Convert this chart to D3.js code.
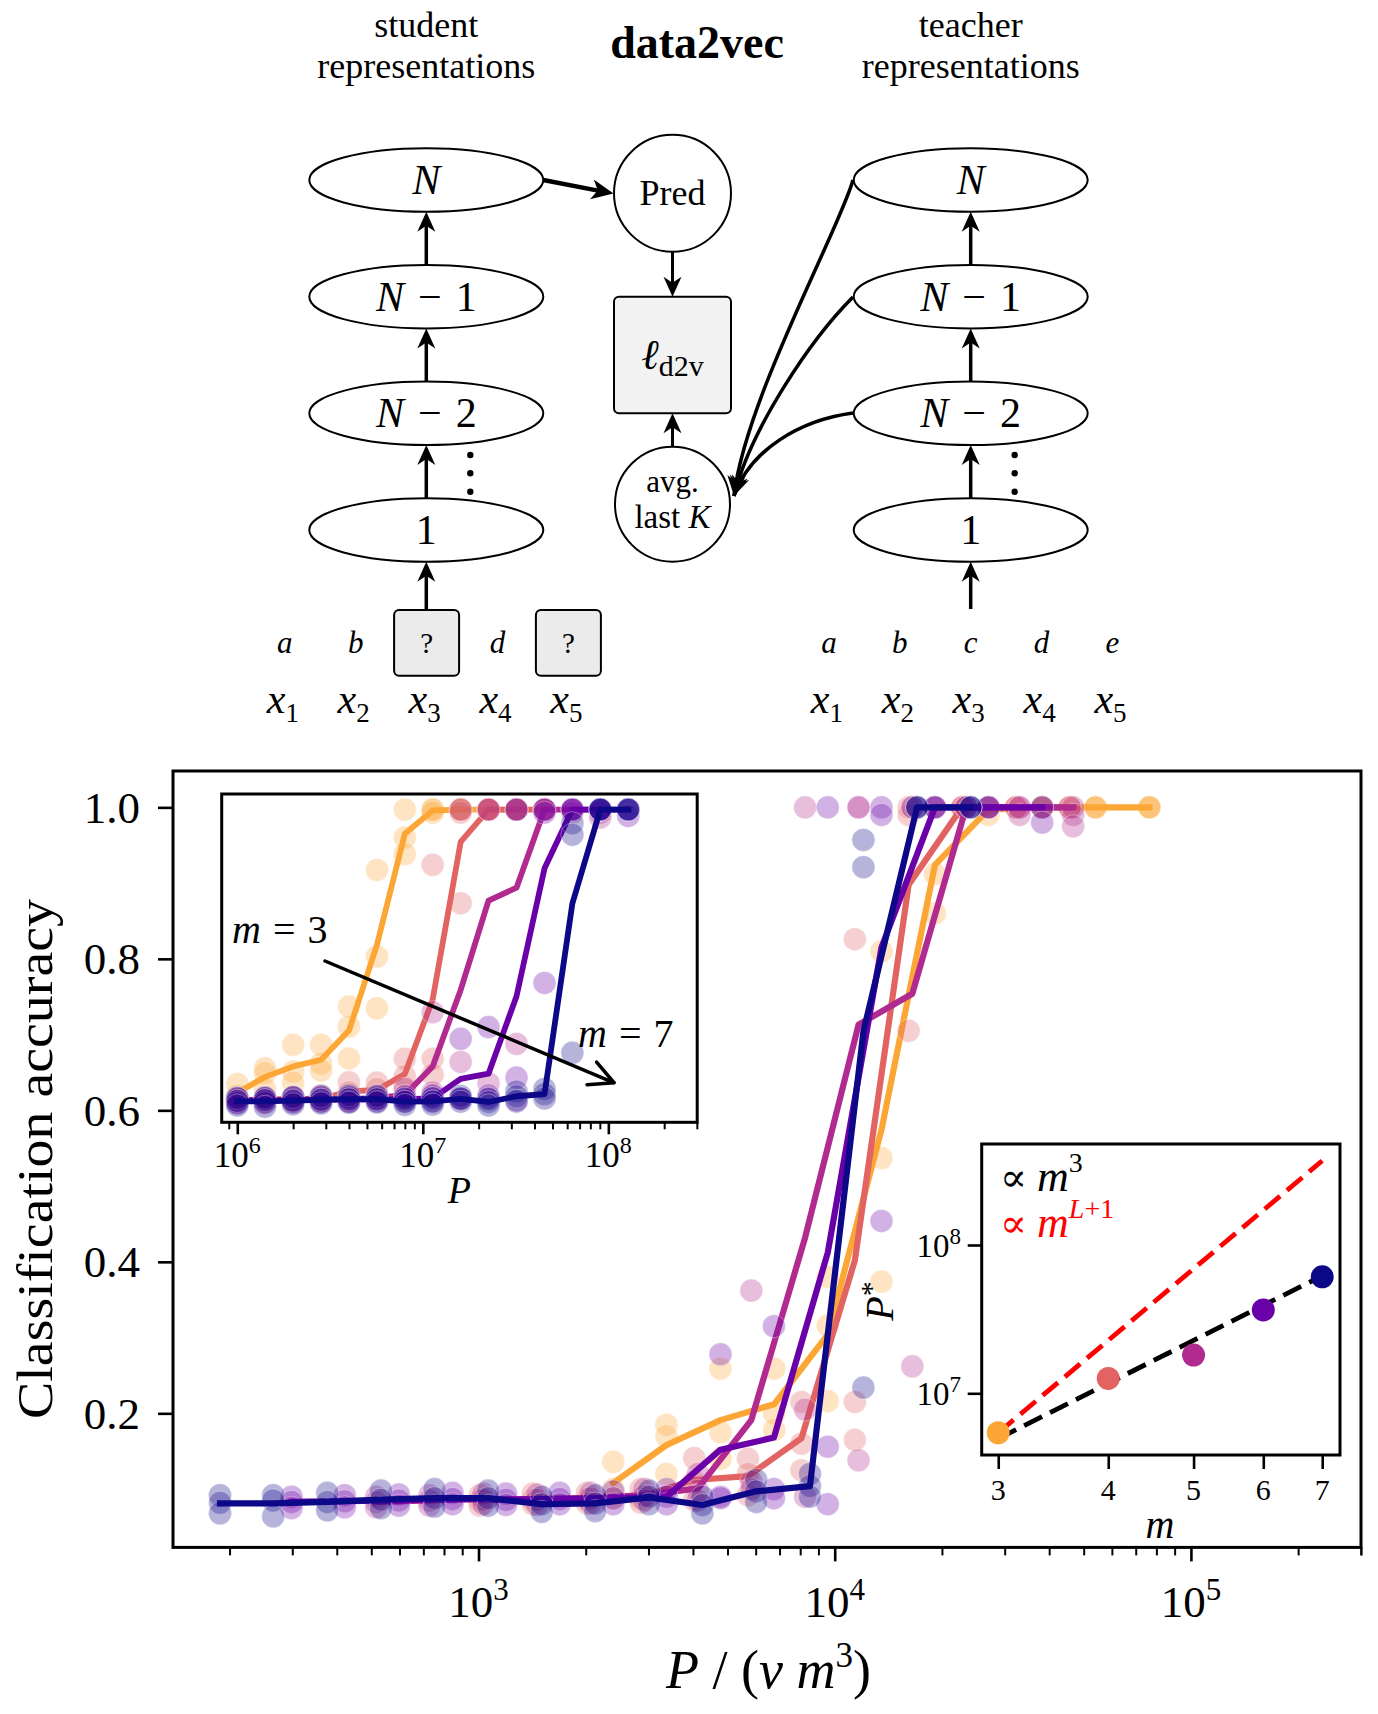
<!DOCTYPE html>
<html>
<head>
<meta charset="utf-8">
<script src="https://cdn.jsdelivr.net/npm/d3@7"></script>
<style>
  body { margin: 0; background: #fff; }
  svg { display: block; }
</style>
</head>
<body>
<svg id="fig" width="1378" height="1714"></svg>
<script>
// ===================== DATA =====================
const mValues = [3, 4, 5, 6, 7];
const seriesColors = ["#fca636", "#e16462", "#b12a90", "#6a00a8", "#0d0887"];
// training-set sizes P (shared grid, sqrt(2) steps)
const Pgrid = [1.0e6, 1.41e6, 2.0e6, 2.83e6, 4.0e6, 5.66e6, 8.0e6, 1.13e7, 1.6e7, 2.26e7, 3.2e7, 4.53e7, 6.4e7, 9.05e7, 1.28e8];
const vFactor = 15.5; // v in P/(v m^3)

// mean accuracy (lines)
const meanM3 = [0.108, 0.158, 0.191, 0.212, 0.304, 0.574, 0.924, 0.997, 1.0, 1.0, 1.0];
const meanM4 = [0.085, 0.087, 0.088, 0.090, 0.112, 0.117, 0.167, 0.402, 0.898, 1.0, 1.0, 1.0];
const meanM5 = [0.083, 0.085, 0.087, 0.086, 0.088, 0.092, 0.101, 0.191, 0.432, 0.713, 0.754, 1.0, 1.0, 1.0];
const meanM6 = [0.083, 0.084, 0.085, 0.087, 0.086, 0.087, 0.088, 0.090, 0.152, 0.168, 0.412, 0.815, 1.0, 1.0, 1.0];
const meanM7 = [0.081, 0.081, 0.083, 0.086, 0.088, 0.088, 0.080, 0.081, 0.089, 0.079, 0.097, 0.104, 0.704, 1.0, 1.0];

// individual runs (faint dots)
const runsM3 = [[0.136,0.100,0.088],[0.185,0.170,0.120],[0.259,0.175,0.140],[0.259,0.200,0.178],[0.380,0.316,0.216],
  [0.810,0.537,0.374],[1.000,0.912,0.860],[1.000,1.000,0.990],[1.000,1.000,1.000],[1.000,1.000,1.000],[1.000,1.000,1.000]];
const runsM4 = [[0.092,0.085,0.078],[0.094,0.086,0.080],[0.095,0.087,0.081],[0.100,0.088,0.082],[0.141,0.110,0.085],
  [0.140,0.120,0.092],[0.215,0.160,0.125],[0.826,0.215,0.165],[1.000,0.990,0.705],[1.000,1.000,1.000],[1.000,1.000,1.000],[1.000,1.000,1.000]];
const runsM5 = [[0.090,0.083,0.076],[0.092,0.085,0.078],[0.094,0.086,0.080],[0.093,0.086,0.079],[0.095,0.088,0.081],
  [0.100,0.091,0.085],[0.120,0.098,0.085],[0.362,0.110,0.100],[1.000,0.205,0.090],[1.000,1.000,0.138],[1.000,1.000,0.262],
  [1.000,1.000,1.000],[1.000,1.000,0.990],[1.000,0.990,0.975]];
const runsM6 = [[0.090,0.083,0.075],[0.092,0.084,0.076],[0.093,0.085,0.078],[0.095,0.087,0.080],[0.094,0.086,0.079],
  [0.095,0.087,0.080],[0.097,0.088,0.080],[0.100,0.090,0.080],[0.278,0.090,0.088],[0.315,0.100,0.088],[1.000,0.156,0.080],
  [1.000,0.990,0.454],[1.000,1.000,1.000],[1.000,1.000,1.000],[1.000,1.000,0.980]];
const runsM7 = [[0.092,0.082,0.068],[0.092,0.085,0.064],[0.095,0.083,0.072],[0.098,0.086,0.075],[0.100,0.088,0.077],
  [0.098,0.088,0.078],[0.090,0.080,0.070],[0.092,0.081,0.071],[0.098,0.090,0.080],[0.090,0.079,0.068],[0.112,0.097,0.083],
  [0.120,0.104,0.090],[0.957,0.921,0.234],[1.000,1.000,1.000],[1.000,1.000,1.000]];

// critical P* per m (inset 2)
const Pstar = [5.42e6, 1.26e7, 1.81e7, 3.65e7, 6.1e7];
const fitM3Ends = [4.95e6, 6.2e7];     // "∝ m^3" at m=3 and m=7
const fitML1Ends = [5.42e6, 3.7e8];    // "∝ m^{L+1}" at m=3 and m=7

const mainYTicks = [0.2, 0.4, 0.6, 0.8, 1.0];
const mainXMajor = [1e3, 1e4, 1e5];
const inset1XMajor = [1e6, 1e7, 1e8];
const inset2YMajor = [1e7, 1e8];

const meansBySeries = [meanM3, meanM4, meanM5, meanM6, meanM7];
const runsBySeries = [runsM3, runsM4, runsM5, runsM6, runsM7];

// ===================== SETUP =====================
const SERIF = "'Liberation Serif','Times New Roman','DejaVu Serif',serif";
const svg = d3.select("#fig");
svg.append("rect").attr("width", 1378).attr("height", 1714).attr("fill", "#fff");

function richText(g, x, y, parts, attrs) {
  const t = g.append("text").attr("x", x).attr("y", y).attr("font-family", SERIF).attr("fill", "#000");
  Object.entries(attrs || {}).forEach(([k, v]) => t.attr(k, v));
  parts.forEach(p => {
    const ts = t.append("tspan").text(p.t);
    if (p.i) ts.attr("font-style", "italic");
    if (p.s) ts.attr("font-size", p.s);
    if (p.dy !== undefined) ts.attr("dy", p.dy);
    if (p.dx !== undefined) ts.attr("dx", p.dx);
    if (p.fill) ts.attr("fill", p.fill);
    if (p.w) ts.attr("font-weight", p.w);
  });
  return t;
}

function arrowHead(g, x, y, angle, L = 20, W = 9, notch = 6) {
  g.append("path")
    .attr("d", `M0,0 L${-L},${-W} L${-L + notch},0 L${-L},${W} Z`)
    .attr("transform", `translate(${x},${y}) rotate(${angle})`)
    .attr("fill", "#000");
}

// ===================== DIAGRAM =====================
const diag = svg.append("g");
const colX = [426.3, 970.7];
const layerY = [180, 296.7, 413.3, 530];
const layerNames = [[{t: "N", i: 1}], [{t: "N", i: 1}, {t: "−", dx: 14}, {t: "1", dx: 14}], [{t: "N", i: 1}, {t: "−", dx: 14}, {t: "2", dx: 14}], [{t: "1"}]];
const RX = 117, RY = 31.7;

richText(diag, colX[0], 37, [{t: "student"}], {"font-size": 36, "text-anchor": "middle"});
richText(diag, colX[0], 78, [{t: "representations"}], {"font-size": 36, "text-anchor": "middle"});
richText(diag, colX[1], 37, [{t: "teacher"}], {"font-size": 36, "text-anchor": "middle"});
richText(diag, colX[1], 78, [{t: "representations"}], {"font-size": 36, "text-anchor": "middle"});
richText(diag, 697, 58, [{t: "data2vec"}], {"font-size": 46, "text-anchor": "middle", "font-weight": "bold"});

colX.forEach(cx => {
  layerY.forEach((cy, li) => {
    diag.append("ellipse").attr("cx", cx).attr("cy", cy).attr("rx", RX).attr("ry", RY)
      .attr("fill", "#fff").attr("stroke", "#000").attr("stroke-width", 2);
    richText(diag, cx, cy + 14, layerNames[li], {"font-size": 42, "text-anchor": "middle"});
  });
  for (let li = 1; li < layerY.length; li++) {
    const y0 = layerY[li] - RY, y1 = layerY[li - 1] + RY;
    diag.append("line").attr("x1", cx).attr("x2", cx).attr("y1", y0).attr("y2", y1 + 12)
      .attr("stroke", "#000").attr("stroke-width", 3.5);
    arrowHead(diag, cx, y1, -90);
  }
  diag.append("line").attr("x1", cx).attr("x2", cx).attr("y1", 609).attr("y2", layerY[3] + RY + 12)
    .attr("stroke", "#000").attr("stroke-width", 3.5);
  arrowHead(diag, cx, layerY[3] + RY, -90);
  [455, 473.3, 491.7].forEach(dy => diag.append("circle").attr("cx", cx + 44).attr("cy", dy).attr("r", 3.2).attr("fill", "#000"));
});

// Pred circle
const predC = {x: 672.5, y: 193.3, r: 58.5};
diag.append("circle").attr("cx", predC.x).attr("cy", predC.y).attr("r", predC.r).attr("fill", "#fff").attr("stroke", "#000").attr("stroke-width", 2);
richText(diag, predC.x, predC.y + 12, [{t: "Pred"}], {"font-size": 36, "text-anchor": "middle"});
// loss box
diag.append("rect").attr("x", 614).attr("y", 296.7).attr("width", 117).attr("height", 116.6).attr("rx", 5)
  .attr("fill", "#f2f2f2").attr("stroke", "#000").attr("stroke-width", 2);
richText(diag, 672.5, 369, [{t: "ℓ", i: 1, s: 42}, {t: "d2v", s: 30, dy: 7}], {"text-anchor": "middle"});
// avg circle
const avgC = {x: 672.5, y: 504.2, r: 57.5};
diag.append("circle").attr("cx", avgC.x).attr("cy", avgC.y).attr("r", avgC.r).attr("fill", "#fff").attr("stroke", "#000").attr("stroke-width", 2);
richText(diag, avgC.x, 491.7, [{t: "avg."}], {"font-size": 31, "text-anchor": "middle"});
richText(diag, avgC.x, 528.3, [{t: "last "}, {t: "K", i: 1}], {"font-size": 33, "text-anchor": "middle"});

// N -> Pred
diag.append("line").attr("x1", 543.3).attr("y1", 180).attr("x2", 598).attr("y2", 190.6).attr("stroke", "#000").attr("stroke-width", 4.5);
arrowHead(diag, 613.5, 193.5, 10.9, 22, 10, 6);
// Pred -> box
diag.append("line").attr("x1", 672.5).attr("x2", 672.5).attr("y1", predC.y + predC.r).attr("y2", 284).attr("stroke", "#000").attr("stroke-width", 3);
arrowHead(diag, 672.5, 296.7, 90);
// avg -> box
diag.append("line").attr("x1", 672.5).attr("x2", 672.5).attr("y1", avgC.y - avgC.r).attr("y2", 426).attr("stroke", "#000").attr("stroke-width", 3);
arrowHead(diag, 672.5, 413.3, -90);

// curved teacher arrows
const curves = [
  [[853, 180], [840, 228], [745, 400], [734, 496]],
  [[853, 297], [810, 340], [750, 430], [734, 496]],
  [[853, 413], [800, 420], [750, 450], [734, 496]]
];
curves.forEach(c => {
  diag.append("path").attr("d", `M${c[0]} C${c[1]} ${c[2]} ${c[3]}`).attr("fill", "none").attr("stroke", "#000").attr("stroke-width", 3.5);
  const ang = Math.atan2(c[3][1] - c[2][1], c[3][0] - c[2][0]) * 180 / Math.PI;
  arrowHead(diag, c[3][0], c[3][1], ang);
});

// token rows
const tokX0 = [284.8, 828.9], tokDX = 70.9;
const studentTokens = ["a", "b", "?", "d", "?"];
const teacherTokens = ["a", "b", "c", "d", "e"];
function xLabel(x, i) {
  richText(diag, x - 2, 713.3, [{t: "x", i: 1}, {t: String(i + 1), s: 27, dy: 9}], {"font-size": 42, "text-anchor": "middle"});
}
studentTokens.forEach((tk, i) => {
  const x = tokX0[0] + tokDX * i;
  if (tk === "?") {
    diag.append("rect").attr("x", x - 32.5).attr("y", 610).attr("width", 65).attr("height", 65.7).attr("rx", 5)
      .attr("fill", "#ebebeb").attr("stroke", "#000").attr("stroke-width", 2);
    richText(diag, x, 653, [{t: "?"}], {"font-size": 29, "text-anchor": "middle"});
  } else {
    richText(diag, x, 653.3, [{t: tk, i: 1}], {"font-size": 31, "text-anchor": "middle"});
  }
  xLabel(x, i);
});
teacherTokens.forEach((tk, i) => {
  const x = tokX0[1] + tokDX * i;
  richText(diag, x, 653.3, [{t: tk, i: 1}], {"font-size": 31, "text-anchor": "middle"});
  xLabel(x, i);
});

// ===================== MAIN CHART =====================
const main = svg.append("g");
const MF = {l: 173, r: 1361, t: 771, b: 1547.4};
const xMain = d3.scaleLog().domain([Math.pow(10, 2.1423), Math.pow(10, 5.4775)]).range([MF.l, MF.r]);
const yMain = d3.scaleLinear().domain([0.023, 1.048]).range([MF.b, MF.t]);

function plotPanel(g, xOf, yScale, r, lw) {
  mValues.forEach((m, i) => {
    const pts = [];
    runsBySeries[i].forEach((arr, k) => arr.forEach(v => pts.push({k, v})));
    g.append("g").selectAll("circle").data(pts).join("circle")
      .attr("cx", d => xOf(Pgrid[d.k], m)).attr("cy", d => yScale(d.v)).attr("r", r)
      .attr("fill", seriesColors[i]).attr("fill-opacity", 0.3)
      .attr("stroke", "#fff").attr("stroke-opacity", 0.35).attr("stroke-width", 1);
    const line = d3.line().x((v, k) => xOf(Pgrid[k], m)).y(v => yScale(v));
    g.append("path").attr("d", line(meansBySeries[i])).attr("fill", "none")
      .attr("stroke", seriesColors[i]).attr("stroke-width", lw)
      .attr("stroke-linejoin", "round").attr("stroke-linecap", "square");
  });
}
plotPanel(main, (P, m) => xMain(P / (vFactor * m * m * m)), yMain, 11.5, 6.2);

const isMajor = v => Math.abs(Math.log10(v) - Math.round(Math.log10(v))) < 1e-9;
const mainMinor = xMain.ticks().filter(v => !isMajor(v)).concat([3e5]);
function styleAxis(sel, w) {
  sel.select(".domain").remove();
  sel.selectAll(".tick line").attr("stroke", "#000").attr("stroke-width", w);
}
main.append("g").attr("transform", `translate(0,${MF.b})`)
  .call(d3.axisBottom(xMain).tickValues(mainMinor).tickSize(8).tickFormat(""))
  .call(s => styleAxis(s, 2));
main.append("g").attr("transform", `translate(0,${MF.b})`)
  .call(d3.axisBottom(xMain).tickValues(mainXMajor).tickSize(14).tickFormat(""))
  .call(s => styleAxis(s, 2.6));
mainXMajor.forEach(v => {
  richText(main, xMain(v), 1616.7, [{t: "10"}, {t: String(Math.round(Math.log10(v))), s: 31, dy: -17}],
    {"font-size": 45, "text-anchor": "middle"});
});
const yAx = main.append("g").attr("transform", `translate(${MF.l},0)`)
  .call(d3.axisLeft(yMain).tickValues(mainYTicks).tickSize(15).tickPadding(18).tickFormat(d3.format(".1f")))
  .call(s => styleAxis(s, 2.6));
yAx.selectAll(".tick text").attr("font-family", SERIF).attr("font-size", 45).attr("fill", "#000").attr("dy", "0.33em");

main.append("rect").attr("x", MF.l).attr("y", MF.t).attr("width", MF.r - MF.l).attr("height", MF.b - MF.t)
  .attr("fill", "none").attr("stroke", "#000").attr("stroke-width", 3);

richText(main, 0, 0, [{t: "Classification accuracy"}],
  {"font-size": 50, "text-anchor": "middle", transform: "translate(52,1159) rotate(-90)", textLength: 520, lengthAdjust: "spacingAndGlyphs"});
richText(main, 768.5, 1688, [{t: "P", i: 1}, {t: " / ("}, {t: "v", i: 1}, {t: " "}, {t: "m", i: 1}, {t: "3", s: 35, dy: -21}, {t: ")", dy: 21}],
  {"font-size": 54, "text-anchor": "middle"});

// ===================== INSET 1 =====================
const in1 = svg.append("g");
const I1 = {l: 221.7, r: 697.2, t: 794, b: 1122.3};
const xIn1 = d3.scaleLog().domain([Math.pow(10, 5.916), Math.pow(10, 8.479)]).range([I1.l, I1.r]);
const yIn1 = d3.scaleLinear().domain([0.015, 1.049]).range([I1.b, I1.t]);
in1.append("rect").attr("x", I1.l).attr("y", I1.t).attr("width", I1.r - I1.l).attr("height", I1.b - I1.t).attr("fill", "#fff");
in1.append("clipPath").attr("id", "clip1").append("rect").attr("x", I1.l).attr("y", I1.t).attr("width", I1.r - I1.l).attr("height", I1.b - I1.t);
const in1Data = in1.append("g").attr("clip-path", "url(#clip1)");
plotPanel(in1Data, (P, m) => xIn1(P), yIn1, 11.5, 5.8);

in1.append("line").attr("x1", 325).attr("y1", 961).attr("x2", 613).attr("y2", 1082.3).attr("stroke", "#000").attr("stroke-width", 3.5).attr("stroke-linecap", "round");
(function () {
  const tip = [614, 1082.7], ang = Math.atan2(1082.7 - 961, 614 - 325), L = 27, half = 27 * Math.PI / 180;
  [ang + Math.PI - half, ang + Math.PI + half].forEach(a => {
    in1.append("line").attr("x1", tip[0]).attr("y1", tip[1]).attr("x2", tip[0] + L * Math.cos(a)).attr("y2", tip[1] + L * Math.sin(a))
      .attr("stroke", "#000").attr("stroke-width", 3.5).attr("stroke-linecap", "round");
  });
})();
richText(in1, 232, 943.3, [{t: "m", i: 1}, {t: "=", dx: 12}, {t: "3", dx: 12}], {"font-size": 40});
richText(in1, 578, 1047.3, [{t: "m", i: 1}, {t: "=", dx: 12}, {t: "7", dx: 12}], {"font-size": 40});

const in1Minor = xIn1.ticks().filter(v => !isMajor(v));
in1.append("g").attr("transform", `translate(0,${I1.b})`)
  .call(d3.axisBottom(xIn1).tickValues(in1Minor).tickSize(7).tickFormat(""))
  .call(s => styleAxis(s, 2));
in1.append("g").attr("transform", `translate(0,${I1.b})`)
  .call(d3.axisBottom(xIn1).tickValues(inset1XMajor).tickSize(12).tickFormat(""))
  .call(s => styleAxis(s, 2.6));
inset1XMajor.forEach(v => {
  richText(in1, xIn1(v), 1167.3, [{t: "10"}, {t: String(Math.round(Math.log10(v))), s: 24, dy: -14}],
    {"font-size": 35, "text-anchor": "middle"});
});
richText(in1, (I1.l + I1.r) / 2, 1203, [{t: "P", i: 1}], {"font-size": 38, "text-anchor": "middle"});
in1.append("rect").attr("x", I1.l).attr("y", I1.t).attr("width", I1.r - I1.l).attr("height", I1.b - I1.t)
  .attr("fill", "none").attr("stroke", "#000").attr("stroke-width", 3);

// ===================== INSET 2 =====================
const in2 = svg.append("g");
const I2 = {l: 981.7, r: 1340, t: 1144, b: 1455};
const xIn2 = d3.scaleLog().domain([2.873, 7.333]).range([I2.l, I2.r]);
const yIn2 = d3.scaleLog().domain([Math.pow(10, 6.584), Math.pow(10, 8.681)]).range([I2.b, I2.t]);
in2.append("rect").attr("x", I2.l).attr("y", I2.t).attr("width", I2.r - I2.l).attr("height", I2.b - I2.t).attr("fill", "#fff");
const mEnds = [mValues[0], mValues[mValues.length - 1]];
const fitLine = d3.line().x((d, i) => xIn2(mEnds[i])).y(d => yIn2(d));
in2.append("path").attr("d", fitLine(fitML1Ends)).attr("fill", "none").attr("stroke", "#ff0000").attr("stroke-width", 4.8).attr("stroke-dasharray", "20,9");
in2.append("path").attr("d", fitLine(fitM3Ends)).attr("fill", "none").attr("stroke", "#000").attr("stroke-width", 4.8).attr("stroke-dasharray", "20,9");
in2.append("g").selectAll("circle").data(Pstar).join("circle")
  .attr("cx", (d, i) => xIn2(mValues[i])).attr("cy", d => yIn2(d)).attr("r", 11.5)
  .attr("fill", (d, i) => seriesColors[i]);

in2.append("g").attr("transform", `translate(0,${I2.b})`)
  .call(d3.axisBottom(xIn2).tickValues(mValues).tickSize(14).tickFormat(""))
  .call(s => styleAxis(s, 2.6));
mValues.forEach(m => richText(in2, xIn2(m), 1500, [{t: String(m)}], {"font-size": 30, "text-anchor": "middle"}));
in2.append("g").attr("transform", `translate(${I2.l},0)`)
  .call(d3.axisLeft(yIn2).tickValues(inset2YMajor).tickSize(14).tickFormat(""))
  .call(s => styleAxis(s, 2.6));
inset2YMajor.forEach(v => {
  richText(in2, 961, yIn2(v) + 11.7, [{t: "10"}, {t: String(Math.round(Math.log10(v))), s: 23, dy: -13}],
    {"font-size": 33, "text-anchor": "end"});
});
richText(in2, 1160, 1538, [{t: "m", i: 1}], {"font-size": 40, "text-anchor": "middle"});
richText(in2, 0, 0, [{t: "P", i: 1}, {t: "*", s: 30, dy: -12}],
  {"font-size": 40, "text-anchor": "middle", transform: "translate(893,1301) rotate(-90)"});
richText(in2, 1000, 1190.7, [{t: "∝", s: 40}, {t: "m", i: 1, s: 44, dx: 10}, {t: "3", s: 28, dy: -19}], {"font-size": 40});
richText(in2, 1000, 1237.3, [{t: "∝", s: 40}, {t: "m", i: 1, s: 44, dx: 10}, {t: "L", i: 1, s: 28, dy: -19}, {t: "+1", s: 28}],
  {"font-size": 40, fill: "#ff0000"});
in2.append("rect").attr("x", I2.l).attr("y", I2.t).attr("width", I2.r - I2.l).attr("height", I2.b - I2.t)
  .attr("fill", "none").attr("stroke", "#000").attr("stroke-width", 3);
</script>
</body>
</html>
